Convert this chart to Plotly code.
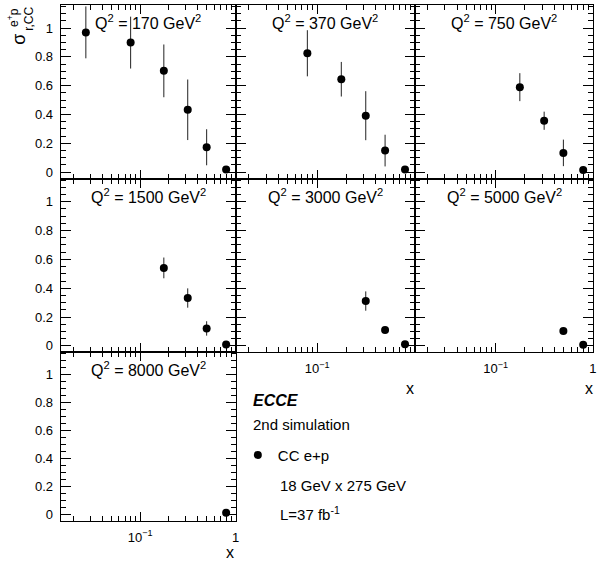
import plotly.graph_objects as go

W, H = 609, 565
FONT = "Liberation Sans, Arial, Helvetica, sans-serif"

# ---- data ----
q2_values = [170, 370, 750, 1500, 3000, 5000, 8000]

x_170 = [0.027, 0.0795, 0.177, 0.315, 0.497, 0.795]
sig_170 = [0.970, 0.899, 0.703, 0.433, 0.173, 0.018]
err_170 = [0.18, 0.18, 0.183, 0.21, 0.125, 0.0]

x_370 = [0.0795, 0.177, 0.315, 0.497, 0.795]
sig_370 = [0.825, 0.645, 0.392, 0.150, 0.018]
err_370 = [0.16, 0.12, 0.17, 0.11, 0.0]

x_750 = [0.177, 0.315, 0.497, 0.795]
sig_750 = [0.590, 0.357, 0.134, 0.016]
err_750 = [0.097, 0.063, 0.092, 0.0]

x_1500 = [0.177, 0.315, 0.497, 0.795]
sig_1500 = [0.541, 0.332, 0.121, 0.010]
err_1500 = [0.072, 0.067, 0.05, 0.0]

x_3000 = [0.315, 0.497, 0.795]
sig_3000 = [0.311, 0.111, 0.012]
err_3000 = [0.067, 0.02, 0.0]

x_5000 = [0.497, 0.795]
sig_5000 = [0.104, 0.008]
err_5000 = [0.015, 0.0]

x_8000 = [0.795]
sig_8000 = [0.015]
err_8000 = [0.0]

xs = [x_170, x_370, x_750, x_1500, x_3000, x_5000, x_8000]
sigs = [sig_170, sig_370, sig_750, sig_1500, sig_3000, sig_5000, sig_8000]
errs = [err_170, err_370, err_750, err_1500, err_3000, err_5000, err_8000]

x_tickvals = [0.1, 1]
x_ticktext = ["10<sup>\u22121</sup>", "1"]
x_minor = [0.02, 0.03, 0.04, 0.05, 0.06, 0.07, 0.08, 0.09,
           0.2, 0.3, 0.4, 0.5, 0.6, 0.7, 0.8, 0.9]

# ---- layout geometry (pixels) ----
cols = [(61, 237), (237, 417), (417, 596)]
rows = [(5, 179), (179, 353), (353, 522)]
panel_rc = [(0, 0), (0, 1), (0, 2), (1, 0), (1, 1), (1, 2), (2, 0)]
xlabel_panels = {4: ["10<sup>\u22121</sup>", ""], 5: x_ticktext, 6: x_ticktext}


def px(x):
    return x / W


def py(y):
    return 1 - y / H


fig = go.Figure()
layout = dict(
    width=W, height=H,
    margin=dict(l=0, r=0, t=0, b=0),
    paper_bgcolor="white", plot_bgcolor="white",
    font=dict(family=FONT, size=13, color="black"),
)
annotations = []

for k, (r, c) in enumerate(panel_rc):
    sfx = "" if k == 0 else str(k + 1)
    x0, x1 = cols[c]
    y0, y1 = rows[r]
    xa = dict(
        type="log", range=[-1.832, 0.002],
        domain=[px(x0), px(x1)], anchor="y" + sfx,
        showline=True, linecolor="black", linewidth=1, mirror="allticks",
        ticks="inside", ticklen=9, tickwidth=1, tickcolor="black",
        tickmode="array", tickvals=x_tickvals,
        ticktext=xlabel_panels.get(k, x_ticktext),
        showticklabels=k in xlabel_panels,
        ticklabelstandoff=4,
        tickfont=dict(size=13, family=FONT, color="black"),
        minor=dict(tickmode="array", tickvals=x_minor, ticks="inside",
                   ticklen=5, tickwidth=1, tickcolor="black", showgrid=False),
        showgrid=False, zeroline=False,
    )
    ya = dict(
        range=[-0.045, 1.16],
        domain=[py(y1), py(y0)], anchor="x" + sfx,
        showline=True, linecolor="black", linewidth=1, mirror="allticks",
        ticks="inside", ticklen=10, tickwidth=1, tickcolor="black",
        tick0=0, dtick=0.2,
        showticklabels=(c == 0),
        ticklabelstandoff=4,
        tickfont=dict(size=13, family=FONT, color="black"),
        minor=dict(tick0=0, dtick=0.05, ticks="inside", ticklen=5,
                   tickwidth=1, tickcolor="black", showgrid=False),
        showgrid=False, zeroline=False,
    )
    layout["xaxis" + sfx] = xa
    layout["yaxis" + sfx] = ya

    fig.add_trace(go.Scatter(
        x=xs[k], y=sigs[k], mode="markers",
        marker=dict(color="black", size=8, symbol="circle"),
        error_y=dict(type="data", array=errs[k], color="#222222",
                     thickness=1, width=0),
        xaxis="x" + sfx, yaxis="y" + sfx,
        name="CC e+p", showlegend=(k == 0),
    ))

    annotations.append(dict(
        x=px((x0 + x1) / 2), y=py(y0 + 17), xref="paper", yref="paper",
        text="Q<sup>2</sup> = %d GeV<sup>2</sup>" % q2_values[k],
        showarrow=False, xanchor="center", yanchor="middle",
        font=dict(size=16, family=FONT, color="black"),
    ))

# x axis titles
for (xx, yy) in [(412, 389), (592, 389), (231, 553)]:
    annotations.append(dict(
        x=px(xx), y=py(yy), xref="paper", yref="paper", text="x",
        showarrow=False, xanchor="center", yanchor="middle",
        font=dict(size=16, family=FONT, color="black"),
    ))

# y axis title (sigma with stacked super/subscripts)
annotations.append(dict(
    x=px(19), y=py(39), xref="paper", yref="paper", text="\u03c3",
    showarrow=False, textangle=-90, xanchor="center", yanchor="middle",
    font=dict(size=18, family=FONT, color="black"),
))
annotations.append(dict(
    x=px(13), y=py(17), xref="paper", yref="paper",
    text="e<sup>+</sup>p",
    showarrow=False, textangle=-90, xanchor="center", yanchor="middle",
    font=dict(size=12, family=FONT, color="black"),
))
annotations.append(dict(
    x=px(29), y=py(19), xref="paper", yref="paper", text="r,CC",
    showarrow=False, textangle=-90, xanchor="center", yanchor="middle",
    font=dict(size=12, family=FONT, color="black"),
))

# legend-area texts
texts = [
    ("<b><i>ECCE</i></b>", 252, 401, 16),
    ("2nd simulation", 252, 425, 15),
    ("18 GeV x 275 GeV", 279, 486, 15),
    ("L=37 fb<sup>-1</sup>", 279, 514, 15),
]
for t, xx, yy, fs in texts:
    annotations.append(dict(
        x=px(xx), y=py(yy), xref="paper", yref="paper", text=t,
        showarrow=False, xanchor="left", yanchor="middle",
        font=dict(size=fs, family=FONT, color="black"),
    ))

layout["annotations"] = annotations
layout["showlegend"] = True
layout["legend"] = dict(
    x=px(239), y=py(456), xanchor="left", yanchor="middle",
    bgcolor="rgba(0,0,0,0)", borderwidth=0,
    font=dict(size=15, family=FONT, color="black"),
)

fig.update_layout(**layout)
fig.write_html(
    "out.html",
    config={"displayModeBar": False},
    post_script="document.body.style.margin='0';document.body.style.overflow='hidden';",
)
